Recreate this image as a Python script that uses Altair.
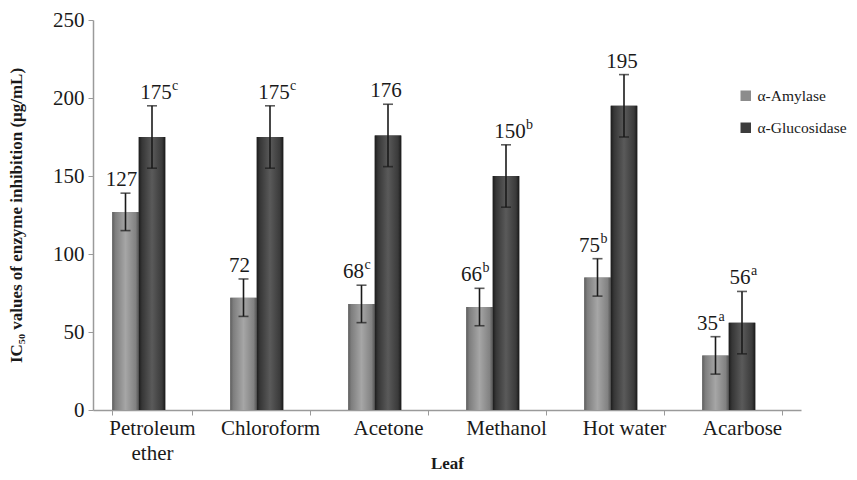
import altair as alt
import pandas as pd

categories = ["Petroleum\nether", "Chloroform", "Acetone", "Methanol", "Hot water", "Acarbose"]
series = ["α-Amylase", "α-Glucosidase"]
amylase = [127, 72, 68, 66, 85, 35]
glucosidase = [175, 175, 176, 150, 195, 56]
amylase_err = [12, 12, 12, 12, 12, 12]
gluco_err = [20, 20, 20, 20, 20, 20]
amylase_labels = ["127", "72", "68", "66", "75", "35"]
amylase_sup = ["", "", "c", "b", "b", "a"]
gluco_labels = ["175", "175", "176", "150", "195", "56"]
gluco_sup = ["c", "c", "", "b", "", "a"]

rows = []
for i, c in enumerate(categories):
    for s, vals, errs, labs, sups in [
        (series[0], amylase, amylase_err, amylase_labels, amylase_sup),
        (series[1], glucosidase, gluco_err, gluco_labels, gluco_sup),
    ]:
        rows.append({
            "cat": c, "series": s, "value": vals[i],
            "lo": vals[i] - errs[i], "hi": vals[i] + errs[i],
            "label": labs[i], "sup": sups[i], "nd": len(labs[i]),
        })
df = pd.DataFrame(rows)

FONT = "Liberation Serif"
INK = "#1a1a1a"

x_enc = alt.X("cat:N", sort=categories, title="Leaf",
              scale=alt.Scale(paddingInner=0.3263, paddingOuter=0.16315),
              axis=alt.Axis(labelAngle=0, labelExpr="split(datum.label, '\\n')",
                            labelFont=FONT, labelFontSize=21, labelColor=INK,
                            labelLineHeight=25, labelPadding=2,
                            tickBand="extent", tickSize=5, tickColor="#9a9a9a",
                            domainColor="#9a9a9a", domainWidth=1.5,
                            titleFont=FONT, titleFontSize=17, titleFontWeight="bold",
                            titleColor=INK, titleBaseline="alphabetic", titleY=58))
xo_enc = alt.XOffset("series:N",
                     scale=alt.Scale(domain=series + ["_gap"], paddingInner=0, paddingOuter=0))

y_scale = alt.Scale(domain=[0, 250], nice=False, zero=True)
y_axis = alt.Axis(values=[0, 50, 100, 150, 200, 250], grid=False,
                  labelFont=FONT, labelFontSize=21, labelColor=INK,
                  tickSize=5, tickColor="#9a9a9a", domainColor="#9a9a9a",
                  domainWidth=1.5, labelPadding=4,
                  titleFont=FONT, titleFontSize=17, titleFontWeight="bold",
                  titleColor=INK, titlePadding=27)
Y_TITLE = "IC₅₀ values of enzyme inhibition (μg/mL)"


def ye(field):
    return alt.Y(f"{field}:Q", title=Y_TITLE, scale=y_scale, axis=y_axis)


base = alt.Chart(df).encode(x=x_enc, xOffset=xo_enc)

legend_bars = base.mark_bar().encode(
    y=ye("value"),
    color=alt.Color("series:N", scale=alt.Scale(domain=series, range=["#8c8c8c", "#3c3c3c"]),
                    legend=alt.Legend(title=None, orient="none", legendX=645, legendY=68,
                                      padding=0, symbolType="square", symbolSize=110,
                                      symbolStrokeWidth=0, labelFont=FONT,
                                      labelFontSize=15.5, labelColor=INK,
                                      rowPadding=15, labelOffset=4, labelLimit=200)),
)

grad_a = {"gradient": "linear", "x1": 0, "x2": 1, "y1": 0, "y2": 0,
          "stops": [{"offset": 0, "color": "#5e5e5e"}, {"offset": 0.12, "color": "#7e7e7e"},
                    {"offset": 0.5, "color": "#a6a6a6"}, {"offset": 0.88, "color": "#828282"},
                    {"offset": 1, "color": "#555555"}]}
grad_g = {"gradient": "linear", "x1": 0, "x2": 1, "y1": 0, "y2": 0,
          "stops": [{"offset": 0, "color": "#1c1c1c"}, {"offset": 0.12, "color": "#363636"},
                    {"offset": 0.5, "color": "#5a5a5a"}, {"offset": 0.88, "color": "#3a3a3a"},
                    {"offset": 1, "color": "#181818"}]}

bars_a = base.mark_bar(color=grad_a).encode(y=ye("value")).transform_filter(
    alt.datum.series == series[0])
bars_g = base.mark_bar(color=grad_g).encode(y=ye("value")).transform_filter(
    alt.datum.series == series[1])

err_rule = base.mark_rule(color=INK, strokeWidth=1.6).encode(y=ye("lo"), y2="hi:Q")
cap_lo = base.mark_tick(color=INK, thickness=1.6, size=10, orient="horizontal").encode(y=ye("lo"))
cap_hi = base.mark_tick(color=INK, thickness=1.6, size=10, orient="horizontal").encode(y=ye("hi"))


def num_layer(filt, dx):
    return base.mark_text(font=FONT, fontSize=21, color=INK, align="center",
                          baseline="alphabetic", dy=-7, dx=dx).encode(
        y=ye("hi"), text="label:N").transform_filter(filt)


def sup_layer(filt, dx):
    return base.mark_text(font=FONT, fontSize=14, color=INK, align="left",
                          baseline="alphabetic", dy=-16, dx=dx).encode(
        y=ye("hi"), text="sup:N").transform_filter(filt)


is_a = alt.datum.series == series[0]
is_g = alt.datum.series == series[1]
has_sup = alt.datum.sup != ""
no_sup = alt.datum.sup == ""

text_layers = [
    num_layer(is_a & no_sup, -4),
    num_layer(is_a & has_sup, -8),
    sup_layer(is_a & has_sup, 3),
    num_layer(is_g & no_sup, -2),
    num_layer(is_g & has_sup & (alt.datum.nd == 3), 4),
    sup_layer(is_g & has_sup & (alt.datum.nd == 3), 20),
    num_layer(is_g & has_sup & (alt.datum.nd == 2), -2),
    sup_layer(is_g & has_sup & (alt.datum.nd == 2), 9),
]

chart = alt.layer(legend_bars, bars_a, bars_g, err_rule, cap_lo, cap_hi, *text_layers).properties(
    width=708, height=390,
    autosize=alt.AutoSizeParams(type="none"),
    padding={"left": 85, "top": 12, "right": 48, "bottom": 62},
    background="white",
).configure_view(stroke=None)

chart.save("out.html", embed_options={"renderer": "svg", "actions": False})
